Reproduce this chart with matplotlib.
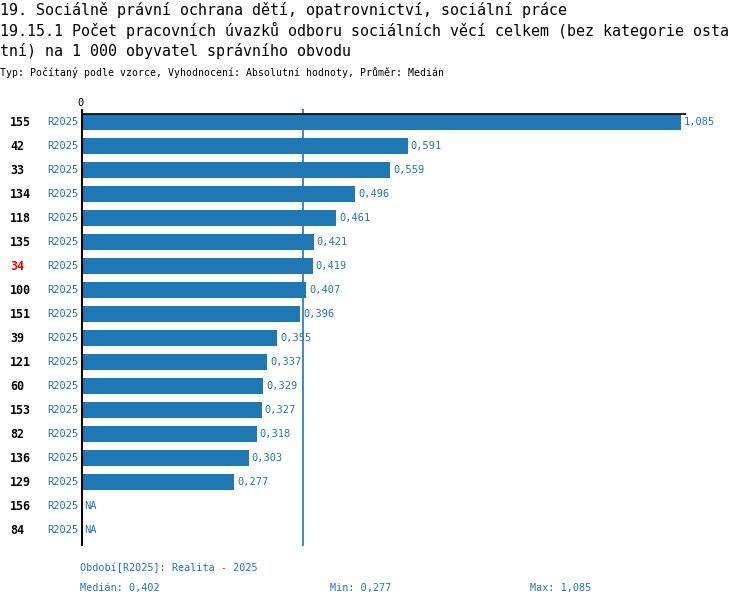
import matplotlib
matplotlib.use('Agg')
import matplotlib.pyplot as plt
import numpy as np

plt.rcParams['font.family'] = ['DejaVu Sans Mono']

# data ------------------------------------------------------------------
kody = ['155', '42', '33', '134', '118', '135', '34', '100', '151', '39',
        '121', '60', '153', '82', '136', '129', '156', '84']
hodnoty = [1.085, 0.591, 0.559, 0.496, 0.461, 0.421, 0.419, 0.407, 0.396,
           0.355, 0.337, 0.329, 0.327, 0.318, 0.303, 0.277, None, None]
obdobi = 'R2025'
zvyrazneny = '34'
median = 0.402
minimum = 0.277
maximum = 1.085

titulek = ['19. Sociálně právní ochrana dětí, opatrovnictví, sociální práce',
           '19.15.1 Počet pracovních úvazků odboru sociálních věcí celkem (bez kategorie osta',
           'tní) na 1 000 obyvatel správního obvodu']
podtitulek = 'Typ: Počítaný podle vzorce, Vyhodnocení: Absolutní hodnoty, Průměr: Medián'
legenda = 'Období[R2025]: Realita - 2025'

def fmt(v):
    return ('%.3f' % v).replace('.', ',')

# figure ----------------------------------------------------------------
W, H = 750, 606
modra = '#1f77b4'
fig = plt.figure(figsize=(W / 100, H / 100), dpi=100)

def px(x, y):
    return x / W, 1 - y / H

# axes placed in pixels
x0, x1 = 81, 730
y0, y1 = 109, 546
ax = fig.add_axes([x0 / W, 1 - y1 / H, (x1 - x0) / W, (y1 - y0) / H])
skala = 600 / maximum  # px per unit
ax.set_xlim(0, (x1 - x0) / skala)
radek = 24
ax.set_ylim((y1 - 122) / radek, (y0 - 122) / radek)
for s in ax.spines.values():
    s.set_visible(False)
ax.set_xticks([])
ax.set_yticks([])

ypos = np.arange(len(kody))
vals = [v if v is not None else 0 for v in hodnoty]
ax.barh(ypos, vals, height=16 / radek, color=modra, zorder=2)

# axis lines
ax.axvline(0, color='black', lw=2.2, zorder=3)
ax.axvline(median, color=modra, lw=1.2, zorder=1)
ytop = (114 - 122) / radek
ax.plot([0, maximum + 5 / skala], [ytop, ytop], color='black', lw=1.2, zorder=3, solid_capstyle='butt')
ax.text(0, (y0 - 122) / radek - 0.05, '0', ha='center', va='bottom', fontsize=7.5)

for i, (k, v) in enumerate(zip(kody, hodnoty)):
    ax.text(-71 / skala, i, k, ha='left', va='center', fontsize=8.4, fontweight='bold',
            color='red' if k == zvyrazneny else 'black')
    ax.text(-3 / skala, i, obdobi, ha='right', va='center', fontsize=7.5, color=modra)
    if v is None:
        ax.text(3 / skala, i, 'NA', ha='left', va='center', fontsize=7.5, color=modra)
    else:
        ax.text(v + 3 / skala, i, fmt(v), ha='left', va='center', fontsize=7.5, color=modra)

# titles
for j, t in enumerate(titulek):
    fig.text(*px(0, 10 + j * 20.5), t, ha='left', va='center', fontsize=10.8)
fig.text(*px(0, 73), podtitulek, ha='left', va='center', fontsize=7.1)

# footer
fig.text(*px(80, 568), legenda, ha='left', va='center', fontsize=7.3, color=modra)
fig.text(*px(80, 588), 'Medián: ' + fmt(median), ha='left', va='center', fontsize=7.3, color=modra)
fig.text(*px(330, 588), 'Min: ' + fmt(minimum), ha='left', va='center', fontsize=7.3, color=modra)
fig.text(*px(530, 588), 'Max: ' + fmt(maximum), ha='left', va='center', fontsize=7.3, color=modra)

fig.savefig('out.png', dpi=100)
